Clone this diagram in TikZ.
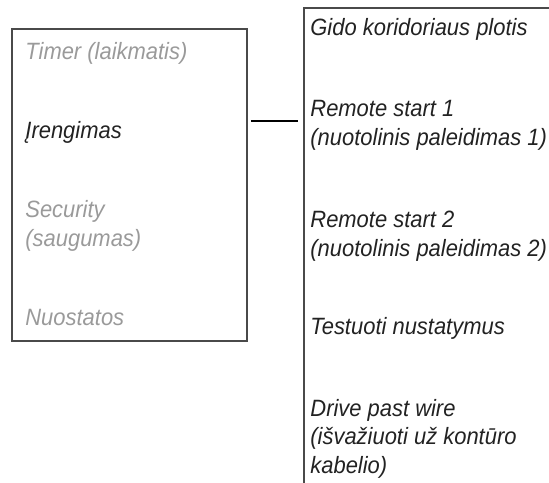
\documentclass[tikz,border=0pt]{standalone}
\usepackage{fontspec}
\setmainfont{Liberation Sans}[FakeStretch=0.93]
\usepackage{xcolor}
\definecolor{mnink}{HTML}{222222}
\definecolor{mnmuted}{HTML}{9A9A9A}
\definecolor{mnrule}{HTML}{4A4A4A}
\usetikzlibrary{positioning}
\tikzset{
  mnframe/.style ={rectangle, draw=mnrule, line width=0.75pt, inner sep=0pt},
  mnitem/.style  ={anchor=base west, inner sep=0pt, align=left, text=mnmuted,
                   font={\fontsize{11.8}{14.25}\selectfont\itshape}},
  mnactive/.style={mnitem, text=mnink},
  mnsub/.style   ={mnitem, text=mnink},
  mnlink/.style  ={draw=black, line width=0.6pt},
}
\begin{document}
\begin{tikzpicture}[x=0.5pt, y=-0.5pt]
  \useasboundingbox (0,0) rectangle (549,482);
  \clip (0,0) rectangle (549,482);
  % menu and the opened sub-menu (base = last line)
  \node[mnframe, minimum width=117.5pt, minimum height=156pt] (menu) at (129.5,185) {};
  \node[mnframe, minimum width=148pt, minimum height=266pt] (sub) at (452,274) {};
  \node[mnitem]   (timer) at (25,59)  {Timer (laikmatis)};
  \node[mnactive] (inst)  at (25,138) {Įrengimas};
  \node[mnitem]   (secu)  at (25,246) {Security\\(saugumas)};
  \node[mnitem]   (sett)  at (25,325) {Nuostatos};
  \node[mnsub] (width)  at (310,35)  {Gido koridoriaus plotis};
  \node[mnsub] (rsone)  at (310,145) {Remote start 1\\(nuotolinis paleidimas 1)};
  \node[mnsub] (rstwo)  at (310,256) {Remote start 2\\(nuotolinis paleidimas 2)};
  \node[mnsub] (test)   at (310,334) {Testuoti nustatymus};
  \node[mnsub] (drive)  at (310,473) {Drive past wire\\(išvažiuoti už kontūro\\kabelio)};
  \coordinate (lk) at (0,121);
  \draw[mnlink] ([xshift=1.5pt]menu.east |- lk) -- ([xshift=-2.5pt]sub.west |- lk);
\end{tikzpicture}
\end{document}
